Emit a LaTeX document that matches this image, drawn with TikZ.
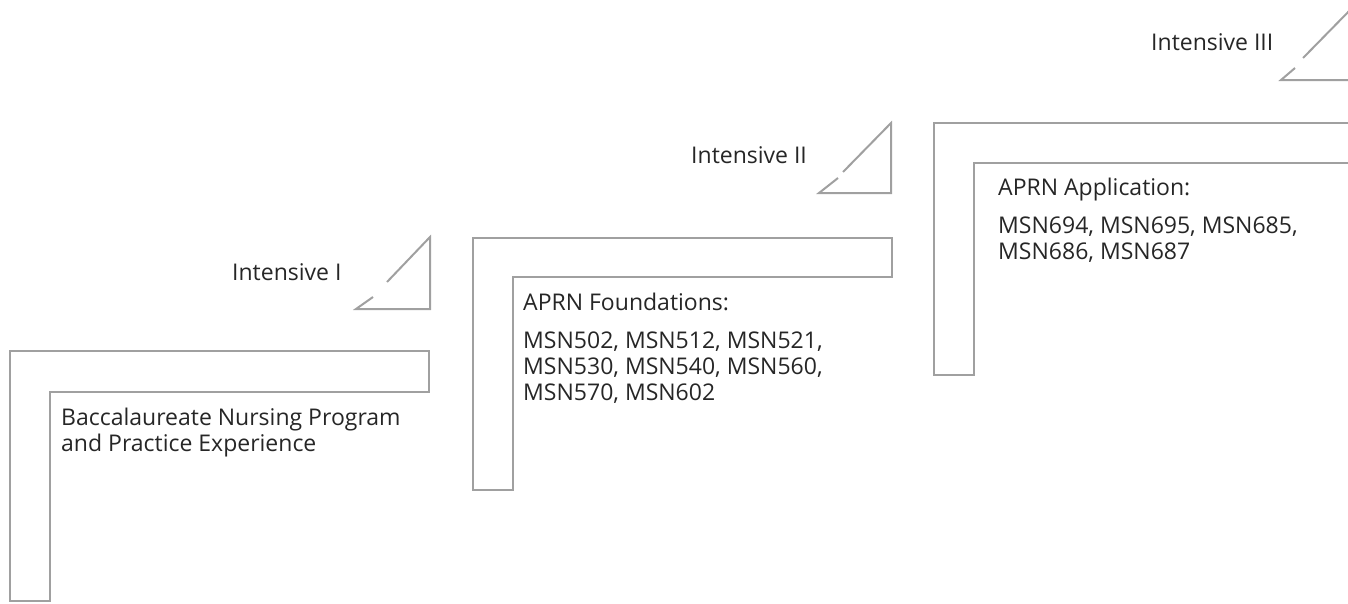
\documentclass[tikz,border=0pt]{standalone}
\usepackage{fontspec}
\setmainfont{Open Sans}
\definecolor{edge}{HTML}{A0A0A0}
\definecolor{ink}{HTML}{262626}
\begin{document}
\begin{tikzpicture}[x=1pt,y=-1pt,
  outline/.style={draw=edge,line width=2pt,line join=miter},
  txt/.style={anchor=base west,inner sep=0pt,text=ink,align=left,
    font=\fontsize{23}{26}\selectfont}]
\useasboundingbox (0,0) rectangle (1348,603);
\clip (0,0) rectangle (1348,603);
% L shapes
\draw[outline] (10,351) -- (429,351) -- (429,392) -- (50,392) -- (50,601) -- (10,601) -- cycle;
\draw[outline] (473,238) -- (892,238) -- (892,277) -- (513,277) -- (513,490) -- (473,490) -- cycle;
\draw[outline] (934,123) -- (1370,123) -- (1370,163) -- (974,163) -- (974,375) -- (934,375) -- cycle;
% triangles
\draw[outline] (373,297) -- (356,309) -- (430,309) -- (430,237) -- (387,282);
\draw[outline] (838,178) -- (819,193) -- (891,193) -- (891,123) -- (843,172);
\draw[outline] (1295,68) -- (1281,80) -- (1355,80) -- (1355,5) -- (1303,58);
% texts (base anchor = baseline of last line)
\node[txt] (i1) at (232,280) {Intensive I};
\node[txt] (i2) at (691,163) {Intensive II};
\node[txt] (i3) at (1151,50) {Intensive III};
\node[txt] (b) at (61,451) {Baccalaureate Nursing Program\\and Practice Experience};
\node[txt] (f) at (523,400) {APRN Foundations:\\[12pt]MSN502, MSN512, MSN521,\\MSN530, MSN540, MSN560,\\MSN570, MSN602};
\node[txt] (a) at (998,259) {APRN Application:\\[12pt]MSN694, MSN695, MSN685,\\MSN686, MSN687};
\end{tikzpicture}
\end{document}
